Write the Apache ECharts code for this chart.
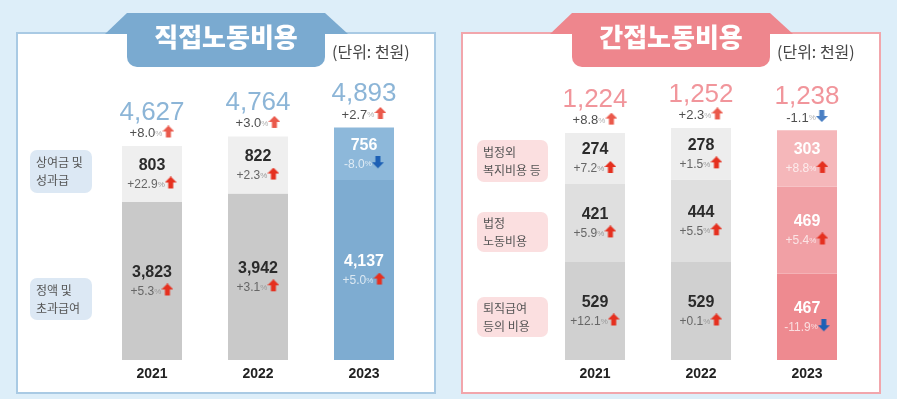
<!DOCTYPE html>
<html><head><meta charset="utf-8">
<script src="https://cdn.jsdelivr.net/npm/echarts@6/dist/echarts.min.js"></script>
<style>html,body{margin:0;padding:0;background:#ddeef9}#c{width:897px;height:399px}</style>
</head><body><div id="c"></div>
<script>
// ---- data ----
const years = ['2021', '2022', '2023'];
// 직접노동비용
const directBase = [3823, 3942, 4137];
const directBaseChg = ['+5.3', '+3.1', '+5.0'];
const directBonus = [803, 822, 756];
const directBonusChg = ['+22.9', '+2.3', '-8.0'];
const directTotal = [4627, 4764, 4893];
const directTotalChg = ['+8.0', '+3.0', '+2.7'];
// 간접노동비용
const indRetire = [529, 529, 467];
const indRetireChg = ['+12.1', '+0.1', '-11.9'];
const indLegal = [421, 444, 469];
const indLegalChg = ['+5.9', '+5.5', '+5.4'];
const indWelfare = [274, 278, 303];
const indWelfareChg = ['+7.2', '+1.5', '+8.8'];
const indTotal = [1224, 1252, 1238];
const indTotalChg = ['+8.8', '+2.3', '-1.1'];
const leftCats = ['상여금 및\n성과급', '정액 및\n초과급여'];
const rightCats = ['법정외\n복지비용 등', '법정\n노동비용', '퇴직급여\n등의 비용'];
const unitText = '(단위: 천원)';
const titles = ['직접노동비용', '간접노동비용'];

// ---- styles ----
const NUMF = '"Liberation Sans", "Noto Sans CJK KR", sans-serif';
const KRF = '"Noto Sans CJK KR", sans-serif';
const fmt = v => v.toLocaleString('en-US');
const arrow = s => s.charAt(0) === '-' ? '{dn|}' : '{up|}';

function arrowImg(color, down) {
  const c = document.createElement('canvas');
  c.width = 12; c.height = 16;
  const g = c.getContext('2d');
  g.fillStyle = color;
  g.beginPath();
  if (!down) {
    g.moveTo(6, 0); g.lineTo(12, 6); g.lineTo(8.5, 6); g.lineTo(8.5, 12);
    g.lineTo(3.5, 12); g.lineTo(3.5, 6); g.lineTo(0, 6);
  } else {
    g.moveTo(6, 12); g.lineTo(12, 6); g.lineTo(8.5, 6); g.lineTo(8.5, 0);
    g.lineTo(3.5, 0); g.lineTo(3.5, 6); g.lineTo(0, 6);
  }
  g.closePath(); g.fill();
  return c;
}
const UP = arrowImg('#e5301f', false);
const DN = arrowImg('#1d60b5', true);

const richBase = {
  v: {fontSize: 16, fontWeight: 'bold', color: '#2b2b2b', fontFamily: NUMF, lineHeight: 21},
  c: {fontSize: 12, color: '#666', fontFamily: NUMF, lineHeight: 17},
  p: {fontSize: 8, color: '#9a9a9a', fontFamily: NUMF, lineHeight: 17},
  vw: {fontSize: 16, fontWeight: 'bold', color: '#ffffff', fontFamily: NUMF, lineHeight: 21},
  cw: {fontSize: 12, color: 'rgba(255,255,255,0.72)', fontFamily: NUMF, lineHeight: 17},
  pw: {fontSize: 8, color: 'rgba(255,255,255,0.72)', fontFamily: NUMF, lineHeight: 17},
  up: {width: 12, height: 16, backgroundColor: {image: UP}},
  dn: {width: 12, height: 16, backgroundColor: {image: DN}}
};

function barSeries(name, vals, chgs, colors, grid, stack, whiteIdx) {
  return {
    name, type: 'bar', stack, xAxisIndex: grid, yAxisIndex: grid, barWidth: 60,
    data: vals.map((v, i) => ({value: v, itemStyle: {color: colors[i]}})),
    label: {
      show: true, position: 'inside',
      formatter: p => {
        const w = p.dataIndex === whiteIdx;
        const ch = chgs[p.dataIndex];
        return (w ? '{vw|' : '{v|') + fmt(p.value) + '}\n' + (w ? '{cw|' : '{c|') + ch + '}' + (w ? '{pw|%}' : '{p|%}') + arrow(ch);
      },
      rich: richBase
    }
  };
}

function totalSeries(vals, chgs, grid, color) {
  return {
    type: 'scatter', xAxisIndex: grid, yAxisIndex: grid, symbolSize: 1,
    itemStyle: {color: 'transparent'}, data: vals, silent: true,
    label: {
      show: true, position: 'top', distance: 4,
      formatter: p => '{t|' + fmt(p.value) + '}\n{c|' + chgs[p.dataIndex] + '}{p|%}' + arrow(chgs[p.dataIndex]),
      rich: {
        t: {fontSize: 26, color, fontFamily: NUMF, lineHeight: 26},
        c: {fontSize: 13, color: '#222', fontFamily: NUMF, lineHeight: 16},
        p: {fontSize: 8, color: '#9a9a9a', fontFamily: NUMF, lineHeight: 16},
        up: richBase.up, dn: richBase.dn
      }
    }
  };
}

const xAx = g => ({
  type: 'category', gridIndex: g, data: years,
  axisLine: {show: false}, axisTick: {show: false},
  axisLabel: {fontSize: 14, fontWeight: 'bold', color: '#222', fontFamily: NUMF, margin: 7}
});

function catBox(x, y, w, h, text, fill) {
  return [
    {type: 'rect', shape: {x, y, width: w, height: h, r: 7}, style: {fill}, z: 1},
    {type: 'text', x: x + 6, y: y + h / 2, z: 2,
     style: {text, fontSize: 12, fill: '#555', fontFamily: KRF, lineHeight: 18, textVerticalAlign: 'middle', verticalAlign: 'middle'}}
  ];
}

function panel(x0, x1, border, tabColor, tabL, tabR, title) {
  return [
    {type: 'rect', shape: {x: x0, y: 33, width: x1 - x0, height: 360}, style: {fill: '#ffffff', stroke: border, lineWidth: 2}, z: 0},
    {type: 'polygon', shape: {points: [[tabL - 22, 34], [tabL, 13], [tabR, 13], [tabR + 23, 34]]}, style: {fill: tabColor}, z: 1},
    {type: 'rect', shape: {x: tabL, y: 20, width: tabR - tabL, height: 47, r: [0, 0, 10, 10]}, style: {fill: tabColor}, z: 1},
    {type: 'text', x: (tabL + tabR) / 2, y: 37, z: 2,
     style: {text: title, fontSize: 26, fontWeight: 900, fill: '#ffffff', fontFamily: KRF, align: 'center', verticalAlign: 'middle'}},
    {type: 'text', x: tabR + 7, y: 52, z: 2,
     style: {text: unitText, fontSize: 16, fill: '#444', fontFamily: KRF, verticalAlign: 'middle'}}
  ];
}

const graphics = [].concat(
  panel(17, 435, '#a9cae4', '#7aaad0', 127, 325, titles[0]),
  panel(462, 880, '#f2a6ac', '#ee868d', 572, 770, titles[1]),
  catBox(30, 150, 62, 43, leftCats[0], '#dce8f4'),
  catBox(30, 278, 62, 42, leftCats[1], '#dce8f4'),
  catBox(477, 140, 71, 42, rightCats[0], '#fbdfe0'),
  catBox(477, 212, 71, 40, rightCats[1], '#fbdfe0'),
  catBox(477, 297, 71, 40, rightCats[2], '#fbdfe0')
);

const chart = echarts.init(document.getElementById('c'));
chart.setOption({
  backgroundColor: '#ddeef9',
  animation: false,
  graphic: {elements: graphics},
  grid: [
    {left: 99, width: 318, top: 120, height: 240},
    {left: 542, width: 318, top: 119, height: 241}
  ],
  xAxis: [xAx(0), xAx(1)],
  yAxis: [
    {type: 'value', gridIndex: 0, min: 1550, max: 5000, show: false, splitLine: {show: false}},
    {type: 'value', gridIndex: 1, min: 0, max: 1300, show: false, splitLine: {show: false}}
  ],
  series: [
    barSeries('정액 및 초과급여', directBase, directBaseChg, ['#c9c9c9', '#c9c9c9', '#7eacd1'], 0, 'd', 2),
    barSeries('상여금 및 성과급', directBonus, directBonusChg, ['#efefef', '#efefef', '#8db8da'], 0, 'd', 2),
    totalSeries(directTotal, directTotalChg, 0, '#6fa3cd'),
    barSeries('퇴직급여 등의 비용', indRetire, indRetireChg, ['#d0d0d0', '#d0d0d0', '#ee8a90'], 1, 'i', 2),
    barSeries('법정 노동비용', indLegal, indLegalChg, ['#dfdfdf', '#dfdfdf', '#f1a0a5'], 1, 'i', 2),
    barSeries('법정외 복지비용 등', indWelfare, indWelfareChg, ['#ededed', '#ededed', '#f5b7ba'], 1, 'i', 2),
    totalSeries(indTotal, indTotalChg, 1, '#ee7b82')
  ]
});
</script></body></html>
